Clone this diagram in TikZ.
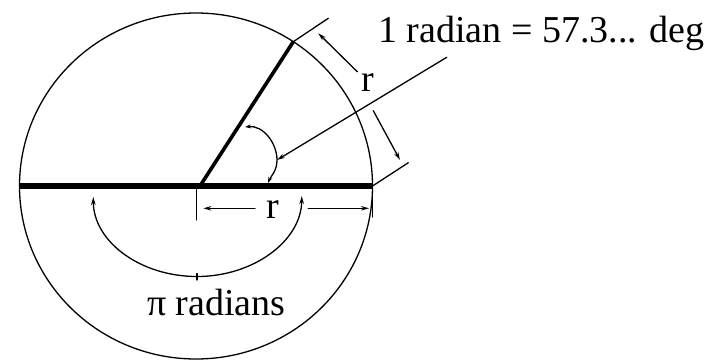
\documentclass[tikz,border=0pt]{standalone}
\usepackage{fontspec}
\setmainfont{Liberation Serif}
\usetikzlibrary{arrows.meta}
\begin{document}
\begin{tikzpicture}[x=1pt,y=-1pt,
  thinline/.style={line width=1.3pt, line cap=round},
  boldline/.style={line width=6pt},
  radline/.style={line width=3.6pt},
  tip/.style={-{Stealth[length=8pt,width=4.5pt]}},
  lbl/.style={inner sep=0pt, font=\fontsize{38}{44}\selectfont}]
\useasboundingbox (0,0) rectangle (727,361);
% key points
\coordinate (C) at (196,186);
\coordinate (O) at (200,186);
\coordinate (L) at (19,186);
\coordinate (R) at (372.5,186);
\coordinate (P) at (293.3,41.7);
\coordinate (Pe) at (328.3,18.3);
\coordinate (Re) at (408.3,162.7);
% circle
\draw[thinline] (C) ellipse [x radius=176.5, y radius=173];
% diameter and radius
\draw[boldline] (L) -- (R);
\draw[radline] (O) -- (P);
% extension lines
\draw[thinline] (P) -- (Pe);
\draw[thinline] (R) -- (Re);
\coordinate (Rt) at (372.5,183);
\coordinate (Rb) at (372.5,217);
\draw[thinline] (Rt) -- (Rb);
\coordinate (Ot) at (196.7,188);
\coordinate (Ob) at (196.7,220);
\draw[thinline] (Ot) -- (Ob);
% arc length r dimension
\node[lbl] (rtop) at (368,83) {r};
\coordinate (a1s) at (357.3,71.7);
\coordinate (a1e) at (318.3,33.3);
\coordinate (a2s) at (373.3,110.7);
\coordinate (a2e) at (400,160);
\draw[thinline,tip] (a1s) -- (a1e);
\draw[thinline,tip] (a2s) -- (a2e);
% radius r dimension along diameter
\node[lbl] (rbot) at (272.5,209.5) {r};
\coordinate (b1s) at (255,208.3);
\coordinate (b1e) at (203.3,208.3);
\coordinate (b2s) at (308.3,208.3);
\coordinate (b2e) at (369,208.3);
\draw[thinline,tip] (b1s) -- (b1e);
\draw[thinline,tip] (b2s) -- (b2e);
% angle arc
\coordinate (S) at (245,127);
\coordinate (M) at (277,160);
\coordinate (E) at (268,183);
\draw[thinline,{Stealth[length=6pt,width=4pt]}-{Stealth[length=6pt,width=4pt]}]
  (S) .. controls (263,125) and (277,143) .. (M)
      .. controls (277,171) and (271,176) .. (E);
% leader from label
\node[lbl, anchor=base west] (title) at (378,42) {1 radian = 57.3... deg};
\coordinate (Ls) at (446.7,57.3);
\draw[thinline,tip] (Ls) -- (M);
% pi radians arc
\coordinate (PL) at (93.3,197);
\coordinate (PB) at (197,276.5);
\coordinate (PR) at (301.7,196);
\draw[thinline,{Stealth[length=8pt,width=4.5pt]}-]
  (PL) .. controls (93.3,241) and (139.6,276.5) .. (PB);
\draw[thinline,-{Stealth[length=8pt,width=4.5pt]}]
  (PB) .. controls (254.4,276.5) and (301.7,240) .. (PR);
\coordinate (PBt) at (197,273.5);
\coordinate (PBb) at (197,280);
\draw[thinline] (PBt) -- (PBb);
\node[lbl, anchor=base west] (pirad) at (147,315) {π radians};
\end{tikzpicture}
\end{document}
